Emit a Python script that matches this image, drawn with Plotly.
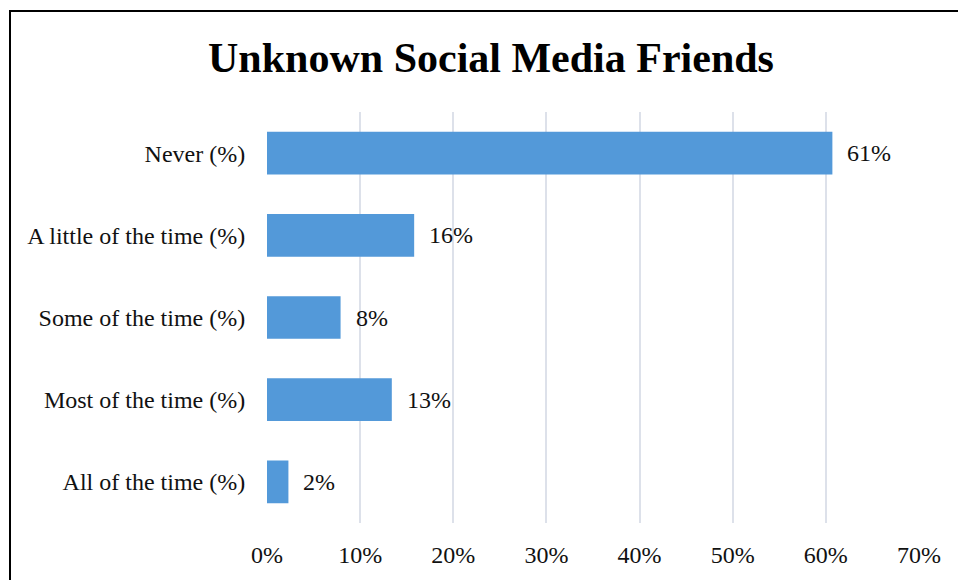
import plotly.graph_objects as go

# Survey responses: how often respondents have social media friends they don't know
categories = ["Never (%)", "A little of the time (%)", "Some of the time (%)",
              "Most of the time (%)", "All of the time (%)"]
shares = [0.607, 0.158, 0.079, 0.134, 0.023]
tick_vals = [0, 0.1, 0.2, 0.3, 0.4, 0.5, 0.6, 0.7]
tick_text = ["0%", "10%", "20%", "30%", "40%", "50%", "60%", "70%"]

W, H = 958, 580
L, R, T, B = 267, 39, 112, 53
pw, ph = W - L - R, H - T - B

serif = "Liberation Serif, Times New Roman, serif"
fs = 24

fig = go.Figure(go.Bar(
    y=categories, x=shares, orientation="h",
    marker=dict(color="#5399d9", line=dict(width=0)),
    hoverinfo="skip",
))

# value labels to the right of each bar
for c, v in zip(categories, shares):
    fig.add_annotation(x=v, y=c, xref="x", yref="y", text=f"{v:.0%}",
                       showarrow=False, xanchor="left", xshift=13,
                       font=dict(family=serif, size=fs, color="#111"))

# chart frame (left and top edges visible)
fig.add_shape(type="rect", xref="paper", yref="paper",
              x0=(10 - L) / pw, x1=(W + 40 - L) / pw,
              y0=-(B + 40) / ph, y1=1 + (T - 10) / ph,
              line=dict(color="black", width=2), layer="above")

fig.update_layout(
    width=W, height=H,
    margin=dict(l=L, r=R, t=T, b=B, pad=0),
    paper_bgcolor="white", plot_bgcolor="white",
    bargap=0.48,
    showlegend=False,
    title=dict(text="<b>Unknown Social Media Friends</b>",
               x=491 / W, xanchor="center", xref="container",
               y=1 - 57 / H, yanchor="middle", yref="container",
               font=dict(family=serif, size=42, color="black")),
    xaxis=dict(range=[0, 0.7], tickvals=tick_vals, ticktext=tick_text,
               showgrid=True, gridcolor="#dde1ea", gridwidth=2,
               zeroline=False, showline=False,
               ticks="outside", ticklen=10, tickcolor="rgba(0,0,0,0)",
               tickfont=dict(family=serif, size=fs, color="#111"),
               fixedrange=True),
    yaxis=dict(categoryorder="array", categoryarray=categories[::-1],
               showgrid=False, zeroline=False, showline=False,
               ticks="outside", ticklen=16, tickcolor="rgba(0,0,0,0)",
               tickfont=dict(family=serif, size=fs, color="#111"),
               fixedrange=True),
)

fig.write_html("out.html", config={"displayModeBar": False})
